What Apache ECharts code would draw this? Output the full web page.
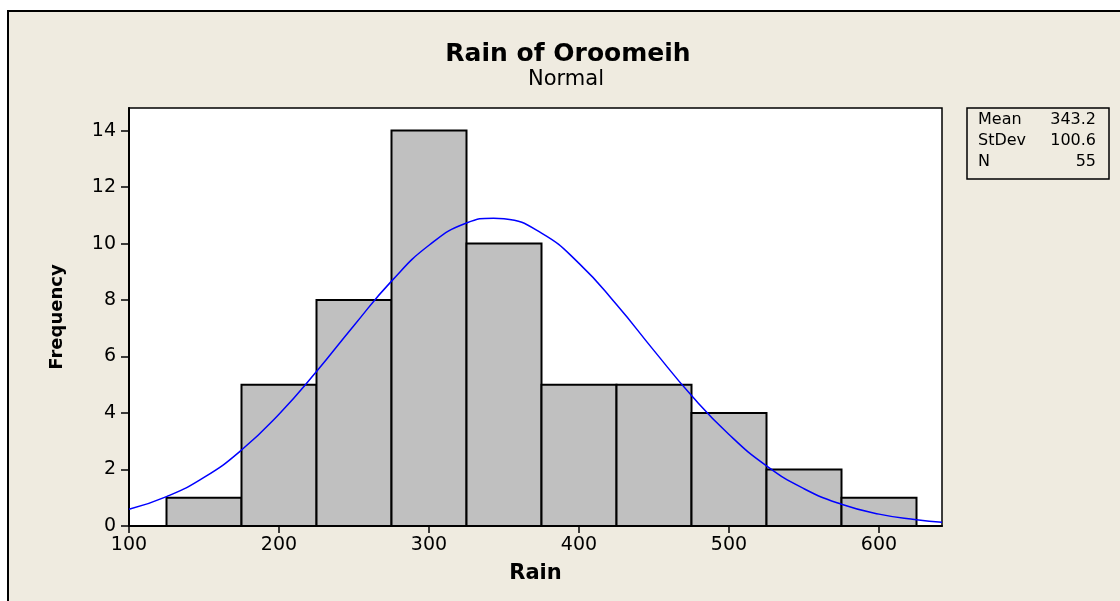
<!DOCTYPE html>
<html>
<head>
<meta charset="utf-8">
<script src="https://cdn.jsdelivr.net/npm/echarts@6/dist/echarts.min.js"></script>
<style>
  html, body { margin: 0; padding: 0; background: #fff; }
  #graph { width: 1120px; height: 601px; }
</style>
</head>
<body>
<div id="graph"></div>
<script>
// histogram bins (lower edge, upper edge) and counts
var binLow = [125, 175, 225, 275, 325, 375, 425, 475, 525, 575];
var binHigh = [175, 225, 275, 325, 375, 425, 475, 525, 575, 625];
var counts = [1, 5, 8, 14, 10, 5, 5, 4, 2, 1];

// fitted normal curve
var curveX = [100, 125, 150, 175, 200, 225, 250, 275, 300, 325, 343, 350, 375, 400, 425, 450, 475, 500, 525, 550, 575, 600, 625, 642];
var curveY = [0.59, 1.04, 1.72, 2.69, 3.96, 5.47, 7.10, 8.67, 9.94, 10.73, 10.90, 10.88, 10.37, 9.30, 7.84, 6.21, 4.62, 3.24, 2.13, 1.32, 0.77, 0.42, 0.22, 0.13];

var xTicks = [100, 200, 300, 400, 500, 600];
var yTicks = [0, 2, 4, 6, 8, 10, 12, 14];

var statNames = ['Mean', 'StDev', 'N'];
var statValues = ['343.2', '100.6', '55'];

var font = 'DejaVu Sans';
var chart = echarts.init(document.getElementById('graph'));

var bins = binLow.map(function (lo, i) { return [lo, binHigh[i], counts[i]]; });
var curve = curveX.map(function (x, i) { return [x, curveY[i]]; });

var statText = [];
statNames.forEach(function (n, i) {
  statText.push({
    type: 'text', left: 978, top: 112 + i * 21, z: 10,
    style: { text: n, font: '16px ' + font, fill: '#000' }
  });
  statText.push({
    type: 'text', right: 1120 - 1096, top: 112 + i * 21, z: 10,
    style: { text: statValues[i], font: '16px ' + font, fill: '#000', textAlign: 'right' }
  });
});

var option = {
  animation: false,
  graphic: [
    {
      type: 'rect', z: -10, silent: true,
      shape: { x: 8, y: 11, width: 1130, height: 610 },
      style: { fill: '#efebe0', stroke: '#000', lineWidth: 2 }
    },
    {
      type: 'text', x: 568, y: 54, z: 10,
      style: { text: 'Rain of Oroomeih', font: 'bold 25px ' + font, fill: '#000', textAlign: 'center', textVerticalAlign: 'middle' }
    },
    {
      type: 'text', x: 566, y: 80, z: 10,
      style: { text: 'Normal', font: '21px ' + font, fill: '#000', textAlign: 'center', textVerticalAlign: 'middle' }
    },
    {
      type: 'rect', z: 5,
      shape: { x: 967, y: 108, width: 142, height: 71 },
      style: { fill: '#efebe0', stroke: '#000', lineWidth: 1.5 }
    }
  ].concat(statText),
  grid: {
    left: 129, right: 178, top: 108, bottom: 75,
    show: true, backgroundColor: '#fff', borderColor: '#000', borderWidth: 1.5
  },
  xAxis: {
    type: 'value', min: 100, max: 642,
    name: 'Rain', nameLocation: 'middle', nameGap: 37,
    nameTextStyle: { fontFamily: font, fontWeight: 'bold', fontSize: 21, color: '#000' },
    splitLine: { show: false },
    axisLine: { show: true, onZero: false, lineStyle: { color: '#000', width: 2 } },
    axisTick: { show: true, length: 7, customValues: xTicks, lineStyle: { color: '#000', width: 1.5 } },
    axisLabel: { customValues: xTicks, margin: 10, fontFamily: font, fontSize: 19, color: '#000' }
  },
  yAxis: {
    type: 'value', min: 0, max: 14.8,
    name: 'Frequency', nameLocation: 'middle', nameGap: 63,
    nameTextStyle: { fontFamily: font, fontWeight: 'bold', fontSize: 18, color: '#000' },
    splitLine: { show: false },
    axisLine: { show: true, lineStyle: { color: '#000', width: 2 } },
    axisTick: { show: true, length: 8, customValues: yTicks, lineStyle: { color: '#000', width: 1.5 } },
    axisLabel: { customValues: yTicks, margin: 13, fontFamily: font, fontSize: 19, color: '#000' }
  },
  series: [
    {
      type: 'custom',
      data: bins,
      encode: { x: [0, 1], y: 2 },
      renderItem: function (params, api) {
        var p0 = api.coord([api.value(0), api.value(2)]);
        var p1 = api.coord([api.value(1), 0]);
        return {
          type: 'rect',
          shape: { x: p0[0], y: p0[1], width: p1[0] - p0[0], height: p1[1] - p0[1] },
          style: { fill: '#c0c0c0', stroke: '#000', lineWidth: 2 }
        };
      },
      z: 2
    },
    {
      type: 'line',
      data: curve,
      smooth: true,
      symbol: 'none',
      lineStyle: { color: '#0000ff', width: 1.5 },
      z: 3
    }
  ]
};

chart.setOption(option);
</script>
</body>
</html>
